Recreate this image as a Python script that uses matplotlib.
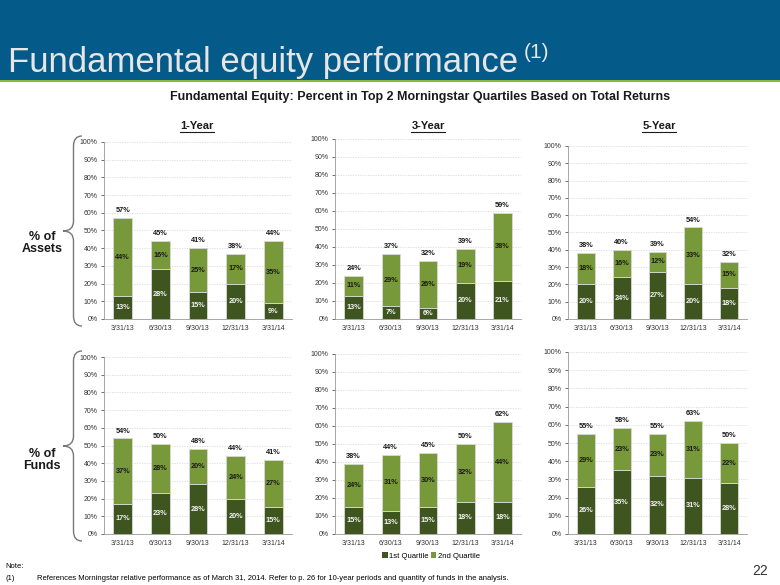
import matplotlib
matplotlib.use("Agg")
import matplotlib.pyplot as plt
from matplotlib import font_manager
from matplotlib.patches import Rectangle, PathPatch
from matplotlib.path import Path

# ---------------- data ----------------
dates = ["3/31/13", "6/30/13", "9/30/13", "12/31/13", "3/31/14"]
periods = ["1-Year", "3-Year", "5-Year"]

assets_1y_q1 = [13, 28, 15, 20, 9]
assets_1y_q2 = [44, 16, 25, 17, 35]
assets_1y_tot = [57, 45, 41, 38, 44]

assets_3y_q1 = [13, 7, 6, 20, 21]
assets_3y_q2 = [11, 29, 26, 19, 38]
assets_3y_tot = [24, 37, 32, 39, 59]

assets_5y_q1 = [20, 24, 27, 20, 18]
assets_5y_q2 = [18, 16, 12, 33, 15]
assets_5y_tot = [38, 40, 39, 54, 32]

funds_1y_q1 = [17, 23, 28, 20, 15]
funds_1y_q2 = [37, 28, 20, 24, 27]
funds_1y_tot = [54, 50, 48, 44, 41]

funds_3y_q1 = [15, 13, 15, 18, 18]
funds_3y_q2 = [24, 31, 30, 32, 44]
funds_3y_tot = [38, 44, 45, 50, 62]

funds_5y_q1 = [26, 35, 32, 31, 28]
funds_5y_q2 = [29, 23, 23, 31, 22]
funds_5y_tot = [55, 58, 55, 63, 50]

yticks = list(range(0, 101, 10))
legend_labels = ["1st Quartile", "2nd Quartile"]

# ---------------- style ----------------
W, H = 780, 585
DARK = "#3F5520"
LIGHT = "#77993A"
BLUE = "#045A88"
GREENLINE = "#8DB83A"

names = {f.name for f in font_manager.fontManager.ttflist}
BASE = "Liberation Sans" if "Liberation Sans" in names else "DejaVu Sans"
NARROW = "Liberation Sans Narrow" if "Liberation Sans Narrow" in names else BASE
plt.rcParams["font.family"] = [BASE, "DejaVu Sans"]

fig = plt.figure(figsize=(W / 100, H / 100), dpi=100)
fig.patch.set_facecolor("white")


def fx(x):
    return x / W


def fy(y):
    return 1 - y / H


# header band
fig.patches.append(Rectangle((0, fy(80)), 1, 80 / H, transform=fig.transFigure,
                             facecolor=BLUE, edgecolor="none", zorder=0))
fig.patches.append(Rectangle((0, fy(82.5)), 1, 2.5 / H, transform=fig.transFigure,
                             facecolor=GREENLINE, edgecolor="none", zorder=0))
t = fig.text(fx(8), fy(72), "Fundamental equity performance", color="#E6E6E6",
             fontsize=25, ha="left", va="baseline", family=BASE)
fig.canvas.draw()
bb = t.get_window_extent()
fig.text(bb.x1 / W + fx(6), fy(58), "(1)", color="#E6E6E6", fontsize=15,
         ha="left", va="baseline", family=BASE)

fig.text(fx(420), fy(97), "Fundamental Equity: Percent in Top 2 Morningstar Quartiles Based on Total Returns",
         fontsize=9, fontweight="bold", ha="center", va="center", family=NARROW, color="#1a1a1a")

# panels: (left, right, top, bottom) in pixels
panels = [
    ((104, 292, 142, 319), assets_1y_q1, assets_1y_q2, assets_1y_tot),
    ((335, 521, 139, 319), assets_3y_q1, assets_3y_q2, assets_3y_tot),
    ((568, 747, 146, 319), assets_5y_q1, assets_5y_q2, assets_5y_tot),
    ((104, 292, 357, 534), funds_1y_q1, funds_1y_q2, funds_1y_tot),
    ((335, 521, 354, 534), funds_3y_q1, funds_3y_q2, funds_3y_tot),
    ((568, 747, 352, 534), funds_5y_q1, funds_5y_q2, funds_5y_tot),
]

xs = list(range(len(dates)))
for (l, r, tp, bt), q1, q2, tot in panels:
    ax = fig.add_axes([fx(l), fy(bt), (r - l) / W, (bt - tp) / H])
    ax.bar(xs, q1, width=0.5, color=DARK, edgecolor="#D8D8D8", linewidth=0.6, zorder=3)
    ax.bar(xs, q2, width=0.5, bottom=q1, color=LIGHT, edgecolor="#D8D8D8", linewidth=0.6, zorder=3)
    for i in xs:
        ax.text(i, q1[i] / 2, f"{q1[i]}%", ha="center", va="center", fontsize=5.3,
                fontweight="bold", color="#F2F2F2", zorder=4)
        ax.text(i, q1[i] + q2[i] / 2, f"{q2[i]}%", ha="center", va="center", fontsize=5.3,
                fontweight="bold", color="#1a1a1a", zorder=4)
        ax.text(i, q1[i] + q2[i] + 2.2, f"{tot[i]}%", ha="center", va="bottom", fontsize=5.3,
                fontweight="bold", color="#1a1a1a", zorder=4)
    ax.set_xlim(-0.5, len(dates) - 0.5)
    ax.set_ylim(0, 100)
    ax.set_yticks(yticks)
    ax.set_yticklabels([f"{v}%" for v in yticks])
    ax.set_xticks(xs)
    ax.set_xticklabels(dates)
    ax.tick_params(axis="both", labelsize=5, colors="#333333", length=2.5, width=0.5, pad=2)
    ax.tick_params(axis="x", length=0, pad=4)
    ax.yaxis.grid(True, color="#D9D9D9", linestyle=(0, (1.5, 1.5)), linewidth=0.6, zorder=0)
    ax.set_axisbelow(True)
    for s in ["top", "right"]:
        ax.spines[s].set_visible(False)
    for s in ["left", "bottom"]:
        ax.spines[s].set_color("#999999")
        ax.spines[s].set_linewidth(0.6)
    ax.set_facecolor("white")

# column headers
for xc, name in zip([197, 428, 659], periods):
    th = fig.text(fx(xc), fy(126), name, fontsize=8, fontweight="bold", ha="center",
                  va="center", family=NARROW, color="#1a1a1a")
    fig.canvas.draw()
    b = th.get_window_extent()
    fig.lines.append(plt.Line2D([b.x0 / W, b.x1 / W], [fy(132), fy(132)],
                                transform=fig.transFigure, color="#1a1a1a", linewidth=0.8))


# braces
def brace(x_tip, x_end, y_top, y_bot):
    ym = (y_top + y_bot) / 2
    xm = (x_tip + x_end) / 2 + 1
    verts = [
        (x_end, y_top), (xm, y_top), (xm, y_top + 10),
        (xm, ym - 10), (xm, ym), (x_tip, ym),
        (xm, ym), (xm, ym + 10),
        (xm, y_bot - 10), (xm, y_bot), (x_end, y_bot),
    ]
    codes = [Path.MOVETO, Path.CURVE3, Path.CURVE3,
             Path.LINETO, Path.CURVE3, Path.CURVE3,
             Path.CURVE3, Path.CURVE3,
             Path.LINETO, Path.CURVE3, Path.CURVE3]
    verts = [(fx(x), fy(y)) for x, y in verts]
    fig.patches.append(PathPatch(Path(verts, codes), transform=fig.transFigure,
                                 facecolor="none", edgecolor="#777777", linewidth=1.0))


brace(63, 82, 136, 326)
brace(63, 82, 351, 541)

fig.text(fx(42), fy(243), "% of\nAssets", fontsize=9, fontweight="bold", ha="center",
         va="center", linespacing=1.05, color="#1a1a1a")
fig.text(fx(42), fy(460), "% of\nFunds", fontsize=9, fontweight="bold", ha="center",
         va="center", linespacing=1.05, color="#1a1a1a")

# legend
handles = [Rectangle((0, 0), 1, 1, facecolor=DARK), Rectangle((0, 0), 1, 1, facecolor=LIGHT)]
fig.legend(handles, legend_labels, loc="center", bbox_to_anchor=(fx(431), fy(556)), ncol=2,
           frameon=False, handlelength=0.7, handleheight=0.9, handletextpad=0.2,
           columnspacing=0.3, prop={"family": NARROW, "size": 5.5})

# footer
fig.text(fx(5), fy(567), "Note:", fontsize=5.5, ha="left", va="center", family=NARROW)
fig.text(fx(5), fy(578), "(1)", fontsize=5.5, ha="left", va="center", family=NARROW)
fig.text(fx(37), fy(578), "References Morningstar relative performance as of March 31, 2014. Refer to p. 26 for 10-year periods and quantity of funds in the analysis.",
         fontsize=5.5, ha="left", va="center", family=NARROW)
fig.text(fx(768), fy(571), "22", fontsize=10, ha="right", va="center", color="#333333")

fig.savefig("out.png", dpi=100, facecolor="white")
